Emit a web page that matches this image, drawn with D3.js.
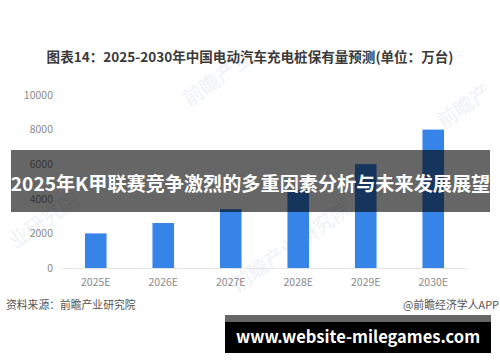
<!DOCTYPE html>
<html>
<head>
<meta charset="utf-8">
<script src="https://d3js.org/d3.v7.min.js"></script>
<style>
  html, body { margin: 0; padding: 0; background: #fff; }
  svg { display: block; }
  text { font-family: "Noto Sans CJK SC", "Noto Sans", sans-serif; }
</style>
</head>
<body>
<div id="vis"></div>
<script>
const years = ["2025E", "2026E", "2027E", "2028E", "2029E", "2030E"];
const stock = [2000, 2600, 3400, 4500, 6000, 8000];
const yTicks = [0, 2000, 4000, 6000, 8000, 10000];

const width = 500, height = 362;
const margin = { top: 95, right: 33, bottom: 94, left: 62 };

const svg = d3.select("#vis")
  .append("svg")
  .attr("width", width)
  .attr("height", height);

// watermark sits under the bars
function watermark(px, py, label) {
  svg.append("text")
    .attr("transform", `translate(${px},${py}) rotate(-35)`)
    .attr("text-anchor", "middle")
    .attr("font-size", 20)
    .attr("fill", "#eef1f6")
    .text(label);
}
watermark(222, 84, "前瞻产业");
watermark(468, 112, "前瞻产");
watermark(48, 226, "业研究院");
watermark(295, 252, "前瞻产业研究院");

const x = d3.scaleBand()
  .domain(years)
  .range([margin.left, width - margin.right])
  .paddingInner(0.68)
  .paddingOuter(0.34);

const y = d3.scaleLinear()
  .domain([0, 10000])
  .range([height - margin.bottom, margin.top]);

svg.append("text")
  .attr("x", 250)
  .attr("y", 62)
  .attr("text-anchor", "middle")
  .attr("font-size", 13.55)
  .attr("font-weight", 700)
  .attr("fill", "#3a3a3a")
  .text("图表14：2025-2030年中国电动汽车充电桩保有量预测(单位：万台)");

const xAxis = svg.append("g")
  .attr("transform", `translate(0,${y(0)})`)
  .call(d3.axisBottom(x).tickSize(0).tickPadding(10.5));
xAxis.select(".domain").attr("stroke", "#e3e5ea");
xAxis.selectAll("text")
  .attr("font-size", 10.5)
  .attr("fill", "#8a8a8a");

const yAxis = svg.append("g")
  .attr("transform", `translate(${margin.left},0)`)
  .call(d3.axisLeft(y).tickValues(yTicks).tickFormat(d => d).tickSize(0).tickPadding(9));
yAxis.select(".domain").remove();
yAxis.selectAll("text")
  .attr("font-size", 10.5)
  .attr("fill", "#8a8a8a");

svg.selectAll(".bar")
  .data(stock)
  .enter()
  .append("rect")
  .attr("class", "bar")
  .attr("x", (d, i) => x(years[i]))
  .attr("y", d => y(d))
  .attr("width", x.bandwidth())
  .attr("height", d => y(0) - y(d))
  .attr("fill", "#3784e8");

svg.append("text")
  .attr("x", 6)
  .attr("y", 309)
  .attr("font-size", 10.8)
  .attr("fill", "#555")
  .text("资料来源：前瞻产业研究院");

svg.append("text")
  .attr("x", 499)
  .attr("y", 309)
  .attr("text-anchor", "end")
  .attr("font-size", 10.9)
  .attr("fill", "#555")
  .text("@前瞻经济学人APP");

// banner across the chart
svg.append("rect")
  .attr("x", 11)
  .attr("y", 150)
  .attr("width", 479)
  .attr("height", 62)
  .attr("fill", "#000")
  .attr("opacity", 0.6);

svg.append("text")
  .attr("x", 250.5)
  .attr("y", 191)
  .attr("text-anchor", "middle")
  .attr("font-size", 19.15)
  .attr("font-weight", 700)
  .attr("fill", "#fff")
  .text("2025年K甲联赛竞争激烈的多重因素分析与未来发展展望");

// site strip, bottom right
svg.append("rect")
  .attr("x", 225)
  .attr("y", 315)
  .attr("width", 266)
  .attr("height", 7)
  .attr("fill", "#666");

svg.append("rect")
  .attr("x", 225)
  .attr("y", 322)
  .attr("width", 266)
  .attr("height", 31)
  .attr("fill", "#000");

svg.append("text")
  .attr("x", 358)
  .attr("y", 343)
  .attr("text-anchor", "middle")
  .attr("font-size", 16.5)
  .attr("font-weight", 700)
  .attr("fill", "#fff")
  .text("www.website-milegames.com");
</script>
</body>
</html>
